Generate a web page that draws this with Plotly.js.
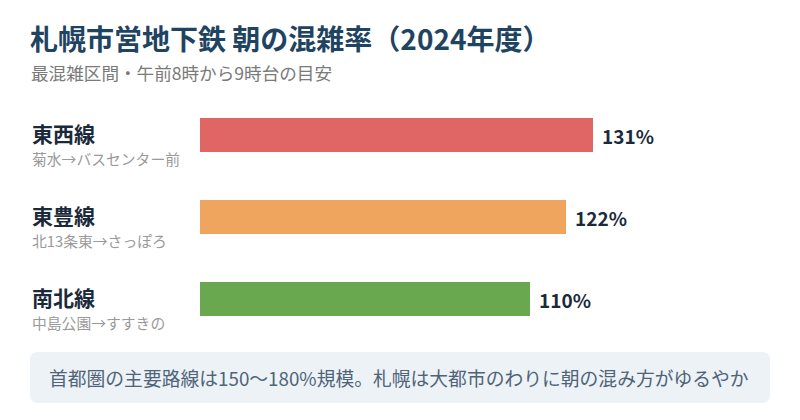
<!DOCTYPE html>
<html>
<head>
<meta charset="utf-8">
<script src="https://cdn.plot.ly/plotly-3.0.1.min.js"></script>
<style>
html,body{margin:0;padding:0;background:#fff;}
#chart{width:800px;height:420px;}
</style>
</head>
<body>
<div id="chart"></div>
<script>
// ---- data ----
const lines = ["東西線", "東豊線", "南北線"];
const sections = ["菊水→バスセンター前", "北13条東→さっぽろ", "中島公園→すすきの"];
const rates = [131, 122, 110];
const colors = ["#e06666", "#f0a55f", "#6aa84f"];
const titleText = "札幌市営地下鉄 朝の混雑率（2024年度）";
const subtitleText = "最混雑区間・午前8時から9時台の目安";
const noteText = "首都圏の主要路線は150〜180%規模。札幌は大都市のわりに朝の混み方がゆるやか";

const FONT = "'Noto Sans CJK JP', 'Noto Sans', sans-serif";

// layout geometry helpers (paper coords)
const W = 800, H = 420, ML = 200, MR = 30, MT = 94, MB = 80;
const PW = W - ML - MR, PH = H - MT - MB;
const px = x => (x - ML) / PW;
const py = y => (H - MB - y) / PH;

function roundRect(x0, y0, x1, y1, r) {
  const rx = r / PW, ry = r / PH;
  const X0 = px(x0), X1 = px(x1), Ytop = py(y0), Ybot = py(y1);
  return `M ${X0 + rx},${Ytop} L ${X1 - rx},${Ytop} Q ${X1},${Ytop} ${X1},${Ytop - ry} ` +
         `L ${X1},${Ybot + ry} Q ${X1},${Ybot} ${X1 - rx},${Ybot} ` +
         `L ${X0 + rx},${Ybot} Q ${X0},${Ybot} ${X0},${Ybot + ry} ` +
         `L ${X0},${Ytop - ry} Q ${X0},${Ytop} ${X0 + rx},${Ytop} Z`;
}

const trace = {
  type: "bar",
  orientation: "h",
  x: rates,
  y: lines,
  marker: {color: colors},
  width: 0.415,
  hoverinfo: "skip"
};

const annotations = [];
lines.forEach((ln, i) => {
  annotations.push({
    xref: "paper", yref: "y", x: px(30), y: ln, xanchor: "left", yanchor: "middle",
    yshift: 2, showarrow: false, text: ln,
    font: {family: FONT, size: 21, color: "#1b2a3a", weight: "bold"}
  });
  annotations.push({
    xref: "paper", yref: "y", x: px(30), y: ln, xanchor: "left", yanchor: "middle",
    yshift: -23, showarrow: false, text: sections[i],
    font: {family: FONT, size: 14.8, color: "#9a9a9a"}
  });
  annotations.push({
    xref: "x", yref: "y", x: rates[i], y: ln, xanchor: "left", yanchor: "middle",
    xshift: 7, showarrow: false, text: rates[i] + "%",
    font: {family: FONT, size: 19, color: "#1b2a3a", weight: "bold"}
  });
});
annotations.push({
  xref: "paper", yref: "paper", x: px(29), y: py(72), xanchor: "left", yanchor: "middle",
  showarrow: false, text: subtitleText,
  font: {family: FONT, size: 17.6, color: "#7a7a7a"}
});
annotations.push({
  xref: "paper", yref: "paper", x: px(47), y: py(377), xanchor: "left", yanchor: "middle",
  showarrow: false, text: noteText,
  font: {family: FONT, size: 18.8, color: "#4f6478"}
});

const layout = {
  width: W, height: H,
  margin: {l: ML, r: MR, t: MT, b: MB},
  paper_bgcolor: "#ffffff",
  plot_bgcolor: "#ffffff",
  showlegend: false,
  title: {
    text: "<b>" + titleText + "</b>",
    x: 30 / W, xanchor: "left", xref: "container",
    y: 1 - 40 / H, yanchor: "middle", yref: "container",
    font: {family: FONT, size: 28, color: "#1f4462"}
  },
  xaxis: {range: [0, 190], visible: false, fixedrange: true},
  yaxis: {autorange: "reversed", visible: false, fixedrange: true, type: "category"},
  shapes: [{
    type: "path", xref: "paper", yref: "paper",
    path: roundRect(30, 352, 770, 403, 8),
    fillcolor: "#edf2f7", line: {width: 0}, layer: "below"
  }],
  annotations: annotations
};

Plotly.newPlot("chart", [trace], layout, {displayModeBar: false, staticPlot: true});
</script>
</body>
</html>
